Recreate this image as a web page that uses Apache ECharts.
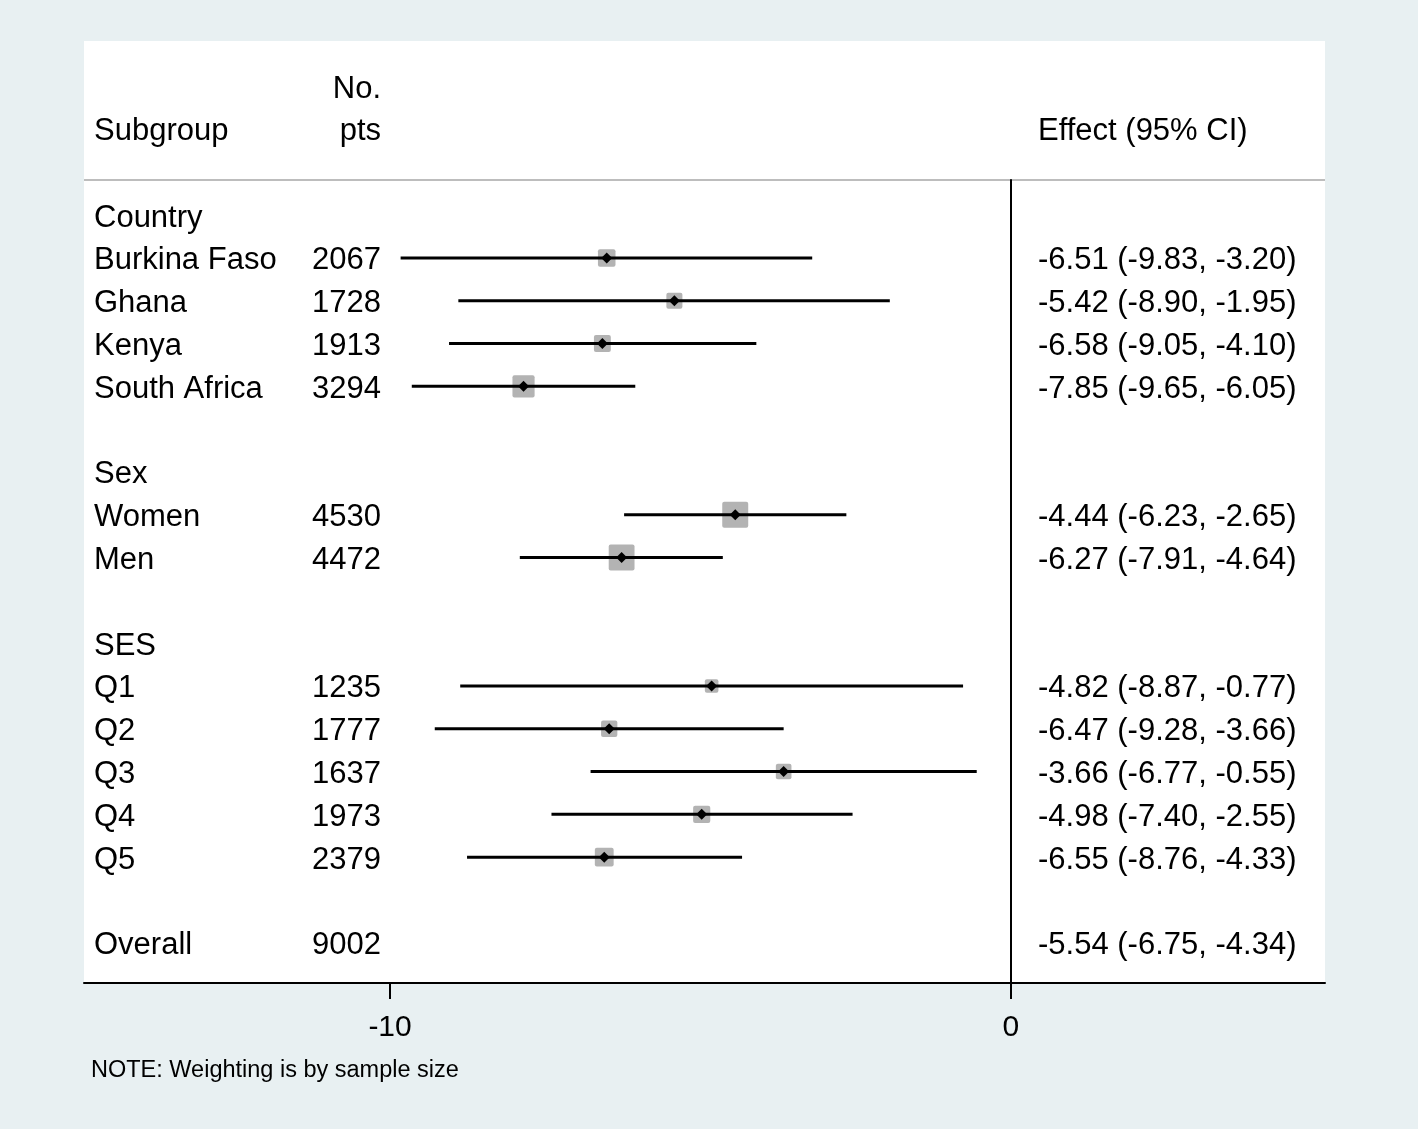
<!DOCTYPE html>
<html>
<head>
<meta charset="utf-8">
<script src="https://cdn.jsdelivr.net/npm/echarts@6/dist/echarts.min.js"></script>
<style>
html,body{margin:0;padding:0;background:#e8f0f2;}
#chart{width:1418px;height:1129px;}
</style>
</head>
<body>
<div id="chart"></div>
<script>
// ---- Data ----
const rowLabels = ['Country','Burkina Faso','Ghana','Kenya','South Africa','','Sex','Women','Men','','SES','Q1','Q2','Q3','Q4','Q5','','Overall'];
const nPts      = [null,2067,1728,1913,3294,null,null,4530,4472,null,null,1235,1777,1637,1973,2379,null,9002];
const effect    = [null,-6.51,-5.42,-6.58,-7.85,null,null,-4.44,-6.27,null,null,-4.82,-6.47,-3.66,-4.98,-6.55,null,-5.54];
const ciLow     = [null,-9.83,-8.90,-9.05,-9.65,null,null,-6.23,-7.91,null,null,-8.87,-9.28,-6.77,-7.40,-8.76,null,-6.75];
const ciHigh    = [null,-3.20,-1.95,-4.10,-6.05,null,null,-2.65,-4.64,null,null,-0.77,-3.66,-0.55,-2.55,-4.33,null,-4.34];
const showMark  = [false,true,true,true,true,false,false,true,true,false,false,true,true,true,true,true,false,false];
const xTicks = [-10, 0];
const noteText = 'NOTE: Weighting is by sample size';

const FONT = '"Liberation Sans", Arial, sans-serif';
const chart = echarts.init(document.getElementById('chart'), null, {renderer:'canvas'});

const fmt = v => v.toFixed(2);
const rowData = rowLabels.map((l, i) => [0, i]);
const markData = [];
rowLabels.forEach((l, i) => { if (showMark[i]) markData.push([effect[i], i, ciLow[i], ciHigh[i], nPts[i]]); });

const option = {
  backgroundColor: '#e8f0f2',
  animation: false,
  grid: { left: 84, right: 93, top: 180, bottom: 146, containLabel: false },
  xAxis: {
    type: 'value', min: -14.93, max: 5.06,
    axisLine: { show: true, onZero: false, lineStyle: { color: '#000', width: 2 } },
    axisTick: { show: true, customValues: xTicks, length: 16, lineStyle: { color: '#000', width: 2 } },
    axisLabel: { show: true, customValues: xTicks, margin: 30, fontSize: 30, color: '#000', fontFamily: FONT },
    splitLine: { show: false }
  },
  yAxis: {
    type: 'value', min: -0.82, max: 17.94, inverse: true,
    axisLine: { show: true, onZero: true, lineStyle: { color: '#000', width: 2 } },
    axisTick: { show: false }, axisLabel: { show: false }, splitLine: { show: false }
  },
  graphic: [
    { type: 'rect', z: -10, shape: { x: 84, y: 41, width: 1241, height: 942 }, style: { fill: '#ffffff' } },
    { type: 'line', shape: { x1: 84, y1: 180, x2: 1325, y2: 180 }, style: { stroke: '#bdbdbd', lineWidth: 2 } },
    { type: 'text', style: { text: 'Subgroup', x: 94, y: 131, fill: '#000', font: '31px ' + FONT, textAlign: 'left', textVerticalAlign: 'middle' } },
    { type: 'text', style: { text: 'No.', x: 381, y: 89, fill: '#000', font: '31px ' + FONT, textAlign: 'right', textVerticalAlign: 'middle' } },
    { type: 'text', style: { text: 'pts', x: 381, y: 131, fill: '#000', font: '31px ' + FONT, textAlign: 'right', textVerticalAlign: 'middle' } },
    { type: 'text', style: { text: 'Effect (95% CI)', x: 1038, y: 131, fill: '#000', font: '31px ' + FONT, textAlign: 'left', textVerticalAlign: 'middle' } },
    { type: 'text', style: { text: noteText, x: 91, y: 1071, fill: '#000', font: '23.5px ' + FONT, textAlign: 'left', textVerticalAlign: 'middle' } }
  ],
  series: [
    {
      type: 'custom', name: 'table', clip: false, silent: true,
      data: rowData,
      renderItem: function (params, api) {
        const i = params.dataIndex;
        const y = api.coord([0, i])[1] + 3;
        const children = [];
        const base = { fill: '#000', font: '31px ' + FONT, textVerticalAlign: 'middle' };
        if (rowLabels[i]) children.push({ type: 'text', style: Object.assign({ text: rowLabels[i], x: 94, y: y, textAlign: 'left' }, base) });
        if (nPts[i] != null) children.push({ type: 'text', style: Object.assign({ text: String(nPts[i]), x: 381, y: y, textAlign: 'right' }, base) });
        if (effect[i] != null) children.push({ type: 'text', style: Object.assign({ text: fmt(effect[i]) + ' (' + fmt(ciLow[i]) + ', ' + fmt(ciHigh[i]) + ')', x: 1038, y: y, textAlign: 'left' }, base) });
        return { type: 'group', children: children };
      }
    },
    {
      type: 'custom', name: 'effects', clip: false,
      data: markData,
      renderItem: function (params, api) {
        const c = api.coord([api.value(0), api.value(1)]);
        const l = api.coord([api.value(2), api.value(1)]);
        const h = api.coord([api.value(3), api.value(1)]);
        const s = 0.386 * Math.sqrt(api.value(4));
        const d = 5.5;
        return { type: 'group', children: [
          { type: 'rect', shape: { x: c[0] - s / 2, y: c[1] - s / 2, width: s, height: s, r: 2 }, style: { fill: '#b3b3b3' } },
          { type: 'line', shape: { x1: l[0], y1: c[1], x2: h[0], y2: c[1] }, style: { stroke: '#000', lineWidth: 3 } },
          { type: 'polygon', shape: { points: [[c[0], c[1] - d], [c[0] + d, c[1]], [c[0], c[1] + d], [c[0] - d, c[1]]] }, style: { fill: '#000' } }
        ] };
      }
    }
  ]
};
chart.setOption(option);
</script>
</body>
</html>
